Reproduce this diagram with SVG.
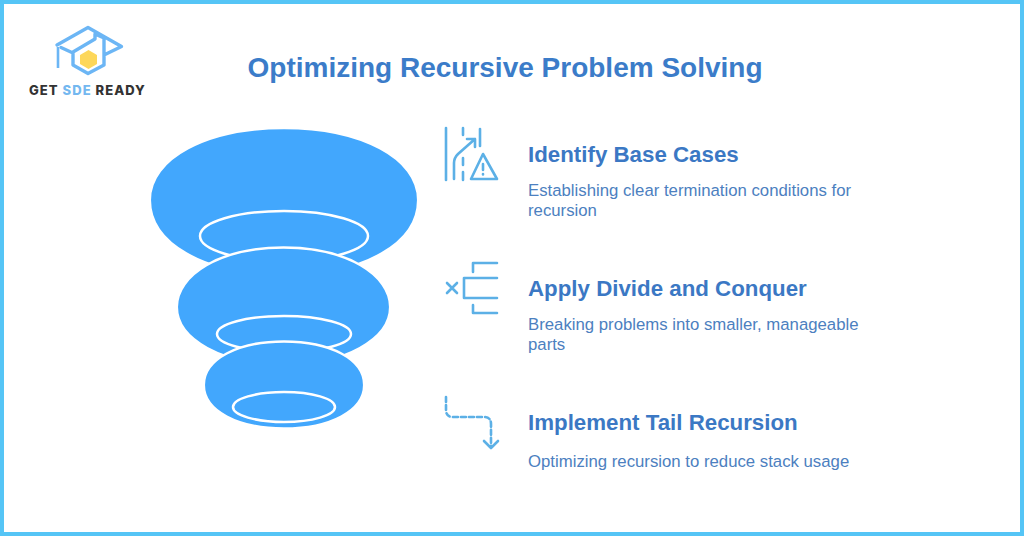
<svg xmlns="http://www.w3.org/2000/svg" width="1024" height="536" viewBox="0 0 1024 536">
<style>
.t{font-family:"Liberation Sans",Arial,sans-serif}
.title{font-size:28px;font-weight:700;fill:#3b7cc9}
.h{font-size:22.3px;font-weight:700;fill:#3b78c4}
.d{font-size:16.75px;fill:#4c80c0}
.blob{fill:#42a7fd;stroke:#fff;stroke-width:2.5}
.ring{fill:none;stroke:#fff;stroke-width:2.5}
.ic{fill:none;stroke:#5cb0e6;stroke-width:2.6;stroke-linecap:round;stroke-linejoin:round}
.logo{font-family:Inter,"Liberation Sans",sans-serif;font-size:13px;font-weight:800;letter-spacing:1.05px}
</style>
<rect x="2" y="2" width="1020" height="532" fill="#fff" stroke="#55c5f6" stroke-width="4"/>
<g id="logo">
<path d="M57 45 L88 27.500 L121.500 46.500 L104 55 M61 47.500 L73 53 M73 52 L95 39 V34 L104 38 V65 L88 73.500 L73 65 Z" fill="none" stroke="#6cb6f5" stroke-width="3.4" stroke-linejoin="round" stroke-linecap="round"/>
<path d="M58 47 V68" fill="none" stroke="#6cb6f5" stroke-width="2.6"/>
<path d="M88.500 50 L97 55 V64 L88.500 69 L80 64 V55 Z" fill="#fdd75a"/>
<text class="logo" x="29" y="95" fill="#333"><tspan>GET </tspan><tspan fill="#74b8f0">SDE </tspan><tspan>READY</tspan></text>
</g>
<text id="title" class="t title" x="505" y="77" text-anchor="middle">Optimizing Recursive Problem Solving</text>
<g id="funnel">
<g id="layer1">
<path class="blob" d="M149.800 200 C149.800 158 207 128 284 128 C361 128 418.200 158 418.200 200 C418.200 243 365 275 284 275 C203 275 149.800 243 149.800 200 Z"/>
<ellipse class="ring" cx="284" cy="236" rx="84" ry="25"/>
</g>
<g id="layer2">
<path class="blob" d="M176.800 307 C176.800 275 220 247.500 283.500 247.500 C347 247.500 390.200 275 390.200 307 C390.200 339 345 365 283.500 365 C222 365 176.800 339 176.800 307 Z"/>
<ellipse class="ring" cx="284" cy="334" rx="67" ry="18"/>
</g>
<g id="layer3">
<path class="blob" d="M203.800 385 C203.800 359 238 341.500 284 341.500 C330 341.500 364.200 359 364.200 385 C364.200 411 330 428.500 284 428.500 C238 428.500 203.800 411 203.800 385 Z"/>
<ellipse class="ring" cx="284" cy="407" rx="51" ry="15"/>
</g>
</g>
<g id="step1">
<g class="ic">
<path d="M446 128 V180"/>
<path d="M463 128 V135 M463 158 V165 M463 172 V180"/>
<path d="M480 129 V146"/>
<path d="M454 179 V163 Q454 158 458 154 L475 139 M467 139 H475 V147"/>
<path d="M483 154 L497 179 H471 Z"/>
<path d="M483 164 V170 M483 174 V174.500"/>
</g>
<text class="t h" x="528" y="162">Identify Base Cases</text>
<text class="t d" x="528" y="196">Establishing clear termination conditions for</text>
<text class="t d" x="528" y="216">recursion</text>
</g>
<g id="step2">
<g class="ic">
<path d="M473 272 V263 H497"/>
<path d="M497 278 H464 V298 H497"/>
<path d="M473 305 V313 H497"/>
<path d="M447 283 L457 293 M457 283 L447 293"/>
</g>
<text class="t h" x="528" y="296">Apply Divide and Conquer</text>
<text class="t d" x="528" y="330">Breaking problems into smaller, manageable</text>
<text class="t d" x="528" y="350">parts</text>
</g>
<g id="step3">
<g class="ic">
<path d="M446 397 V410 Q446 417 453 417 H484 Q491 417 491 424 V447" stroke-dasharray="5 3"/>
<path d="M484 441 L491 448 L498 441"/>
</g>
<text class="t h" x="528" y="430">Implement Tail Recursion</text>
<text class="t d" x="528" y="467">Optimizing recursion to reduce stack usage</text>
</g>
</svg>
